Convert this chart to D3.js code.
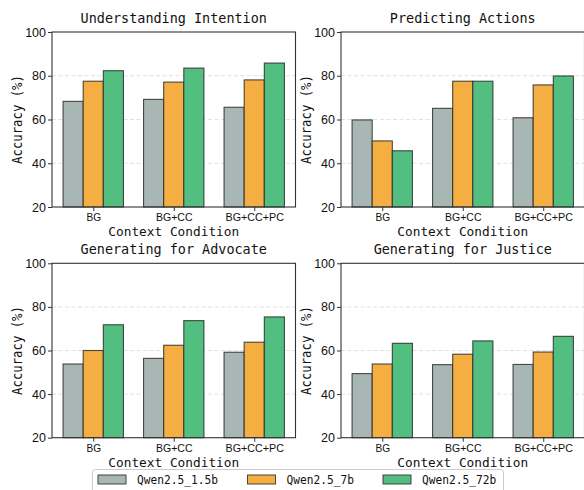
<!DOCTYPE html>
<html>
<head>
<meta charset="utf-8">
<script src="https://cdn.jsdelivr.net/npm/d3@7"></script>
<style>
  html, body { margin: 0; padding: 0; background: #fff; }
  svg { display: block; }
</style>
</head>
<body>
<svg id="chart" width="584" height="490"></svg>
<script>
// Context conditions along the x axis
const conditions = ["BG", "BG+CC", "BG+CC+PC"];
// Model series
const models = ["Qwen2.5_1.5b", "Qwen2.5_7b", "Qwen2.5_72b"];
const modelColors = ["#a8b6b4", "#f5ae42", "#52be80"];
// Accuracy (%) per task, one array per model, ordered as conditions
const taskTitles = ["Understanding Intention", "Predicting Actions", "Generating for Advocate", "Generating for Justice"];
const understandingIntention = [[68.3, 69.2, 65.6], [77.5, 77.1, 78.1], [82.3, 83.5, 85.8]];
const predictingActions      = [[59.8, 65.1, 60.8], [50.2, 77.5, 75.8], [45.7, 77.5, 79.9]];
const generatingAdvocate     = [[53.8, 56.4, 59.2], [60.0, 62.4, 63.8], [71.8, 73.7, 75.4]];
const generatingJustice      = [[49.4, 53.5, 53.6], [53.8, 58.3, 59.3], [63.3, 64.4, 66.5]];
const yTicks = [20, 40, 60, 80, 100];

const taskData = [understandingIntention, predictingActions, generatingAdvocate, generatingJustice];

const svg = d3.select("#chart");
const monoFont = "'DejaVu Sans Mono', 'Liberation Mono', monospace";
const sansFont = "'Liberation Sans', Arial, sans-serif";

// Panel frames: [x0, x1] and [yTop, yBottom]
const cols = [[52, 295.5], [341, 584.5]];
const rows = [[32, 207], [263.3, 437.7]];

// text squeezed to a fixed advance per character
function fitText(sel, perChar) {
  sel.attr("textLength", function () { return this.textContent.length * perChar; })
     .attr("lengthAdjust", "spacingAndGlyphs");
  return sel;
}

const barW = 0.25;

taskData.forEach((series, ti) => {
  const [x0, x1] = cols[ti % 2];
  const [yT, yB] = rows[Math.floor(ti / 2)];
  const g = svg.append("g");

  const x = d3.scaleLinear().domain([-0.5125, 2.5125]).range([x0, x1]);
  const y = d3.scaleLinear().domain([20, 100]).range([yB, yT]);

  // dashed horizontal grid
  g.append("g").selectAll("line").data(yTicks.slice(1, -1)).join("line")
    .attr("x1", x0).attr("x2", x1)
    .attr("y1", d => y(d)).attr("y2", d => y(d))
    .attr("stroke", "#d9d9d9").attr("stroke-width", 0.8)
    .attr("stroke-dasharray", "4,2.5");

  // bars
  models.forEach((m, mi) => {
    g.append("g").selectAll("rect").data(series[mi]).join("rect")
      .attr("x", (d, ci) => x(ci + (mi - 1) * barW - barW / 2))
      .attr("width", x(barW) - x(0))
      .attr("y", d => y(d))
      .attr("height", d => y(20) - y(d))
      .attr("fill", modelColors[mi])
      .attr("stroke", "#2b2b2b")
      .attr("stroke-opacity", 0.85)
      .attr("stroke-width", 1.1);
  });

  // y axis
  const yAxis = g.append("g").attr("transform", `translate(${x0},0)`)
    .call(d3.axisLeft(y).tickValues(yTicks).tickSize(4).tickPadding(2).tickFormat(d3.format("d")));
  yAxis.select(".domain").remove();
  yAxis.selectAll("line").attr("stroke", "#333");
  yAxis.selectAll("text").attr("font-family", sansFont).attr("font-size", 12.5).attr("fill", "#111");

  // x axis
  const xAxis = g.append("g").attr("transform", `translate(0,${yB})`)
    .call(d3.axisBottom(x).tickValues([0, 1, 2]).tickSize(4).tickPadding(2)
      .tickFormat(i => conditions[i]));
  xAxis.select(".domain").remove();
  xAxis.selectAll("line").attr("stroke", "#333");
  xAxis.selectAll("text").attr("font-family", sansFont).attr("font-size", 10.5).attr("fill", "#111")
    .attr("y", 14).attr("dy", 0)
    .each(function () {
      const t = this.textContent;
      d3.select(this).attr("textLength", t.length * 7.3).attr("lengthAdjust", "spacingAndGlyphs");
    });

  // frame
  g.append("rect").attr("x", x0).attr("y", yT).attr("width", x1 - x0).attr("height", yB - yT)
    .attr("fill", "none").attr("stroke", "#333").attr("stroke-width", 1.1);

  // title
  const cx = (x0 + x1) / 2;
  fitText(g.append("text").attr("x", cx).attr("y", yT - 9.5).attr("text-anchor", "middle")
    .attr("font-family", monoFont).attr("font-size", 14).attr("fill", "#111")
    .text(taskTitles[ti]), 8.1);

  // x label
  fitText(g.append("text").attr("x", cx).attr("y", yB + 29).attr("text-anchor", "middle")
    .attr("font-family", monoFont).attr("font-size", 13).attr("fill", "#111")
    .text("Context Condition"), 7.7);

  // y label
  fitText(g.append("text")
    .attr("transform", `translate(${x0 - 30},${(yT + yB) / 2}) rotate(-90)`)
    .attr("text-anchor", "middle")
    .attr("font-family", monoFont).attr("font-size", 13.5).attr("fill", "#111")
    .text("Accuracy (%)"), 7.4);
});

// legend
const lg = svg.append("g");
lg.append("rect").attr("x", 92.5).attr("y", 469.5).attr("width", 411).attr("height", 30)
  .attr("rx", 3).attr("fill", "#fff").attr("stroke", "#cccccc").attr("stroke-width", 1);
const legendX = [98, 247.5, 383];
models.forEach((m, i) => {
  lg.append("rect").attr("x", legendX[i]).attr("y", 475).attr("width", 28).attr("height", 9)
    .attr("fill", modelColors[i]).attr("stroke", "#2b2b2b").attr("stroke-opacity", 0.85).attr("stroke-width", 1);
  fitText(lg.append("text").attr("x", legendX[i] + 39).attr("y", 484)
    .attr("font-family", monoFont).attr("font-size", 13).attr("fill", "#111")
    .text(m), 6.75);
});
</script>
</body>
</html>
